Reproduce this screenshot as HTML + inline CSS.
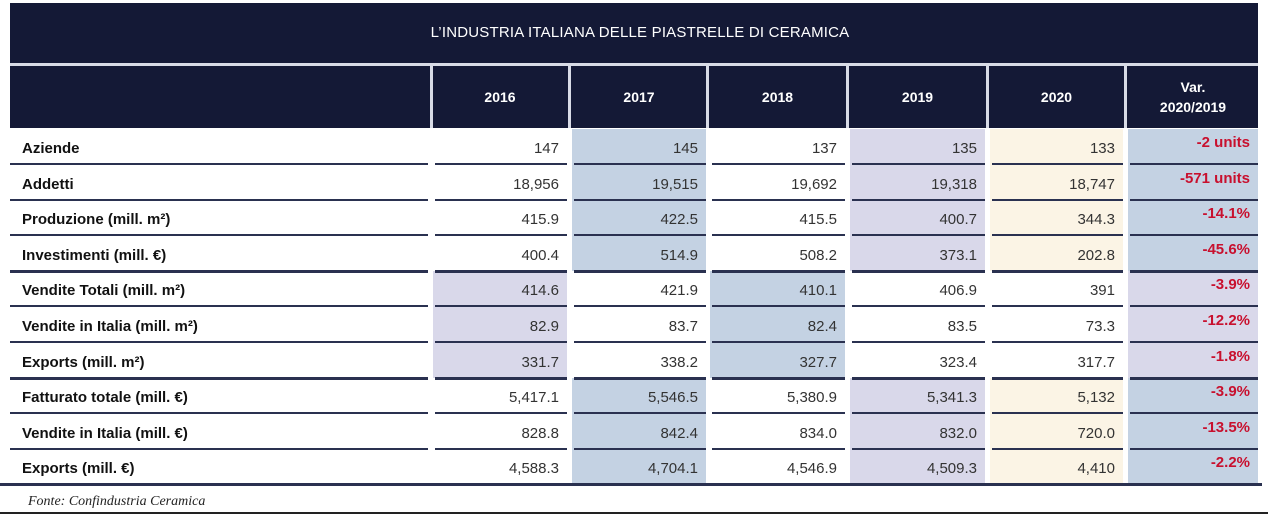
<!DOCTYPE html>
<html><head><style>
body{margin:0;width:1280px;height:525px;background:#fff;position:relative;overflow:hidden;font-family:"Liberation Sans",sans-serif}
.hd{position:absolute;left:10px;top:3px;width:1248px;height:125px;background:#141936}
.title{position:absolute;left:0;width:1280px;top:24px;text-align:center;color:#fff;font-size:15px;letter-spacing:0.2px}
.wl{position:absolute;left:10px;top:63px;width:1248px;height:3px;background:#d8dbe6}
.ch{position:absolute;top:66px;height:62px;color:#fff;font-weight:bold;font-size:14px;display:flex;align-items:center;justify-content:center;text-align:center;line-height:20px}
.vs{position:absolute;top:66px;height:62px;width:3px;background:#d8dbe6}
.c{position:absolute;height:36px;font-size:15px;color:#333;text-align:right;box-sizing:border-box;padding-right:8px;line-height:40px}
.l{position:absolute;left:22px;font-size:15px;font-weight:bold;color:#111;line-height:40px;height:34px}
.ln{position:absolute;height:2px;background:#2a3150;z-index:2}
.r{color:#c8102e;font-weight:bold;line-height:28px}
</style></head><body>
<div class="hd"></div>
<div class="title">L’INDUSTRIA ITALIANA DELLE PIASTRELLE DI CERAMICA</div>
<div class="wl"></div>
<div class="ch" style="left:433px;width:134px">2016</div>
<div class="ch" style="left:572px;width:134px">2017</div>
<div class="ch" style="left:710px;width:135px">2018</div>
<div class="ch" style="left:850px;width:135px">2019</div>
<div class="ch" style="left:990px;width:133px">2020</div>
<div class="ch" style="left:1128px;width:130px">Var.<br>2020/2019</div>
<div class="vs" style="left:430px"></div><div class="vs" style="left:568px"></div><div class="vs" style="left:706px"></div><div class="vs" style="left:846px"></div><div class="vs" style="left:986px"></div><div class="vs" style="left:1124px"></div>
<div id="t"></div>
<div style="position:absolute;left:28px;top:494px;font-family:'Liberation Serif',serif;font-style:italic;font-size:14px;color:#222">Fonte: Confindustria Ceramica</div>
<div style="position:absolute;left:0;top:512px;width:1268px;height:2px;background:#222"></div>
<script>
var rows=[["Aziende","147","145","137","135","133","-2 units"],["Addetti","18,956","19,515","19,692","19,318","18,747","-571 units"],["Produzione (mill. m²)","415.9","422.5","415.5","400.7","344.3","-14.1%"],["Investimenti (mill. €)","400.4","514.9","508.2","373.1","202.8","-45.6%"],["Vendite Totali (mill. m²)","414.6","421.9","410.1","406.9","391","-3.9%"],["Vendite in Italia (mill. m²)","82.9","83.7","82.4","83.5","73.3","-12.2%"],["Exports (mill. m²)","331.7","338.2","327.7","323.4","317.7","-1.8%"],["Fatturato totale (mill. €)","5,417.1","5,546.5","5,380.9","5,341.3","5,132","-3.9%"],["Vendite in Italia (mill. €)","828.8","842.4","834.0","832.0","720.0","-13.5%"],["Exports (mill. €)","4,588.3","4,704.1","4,546.9","4,509.3","4,410","-2.2%"]];
var B="#c4d2e3",L="#d9d8ea",C="#fbf4e5",W="#fff";
var A=[W,B,W,L,C,B],M=[L,W,B,W,W,L];
var xs=[433,572,710,850,990,1128],ws=[134,134,135,135,133,130];
var h="";
for(var i=0;i<10;i++){var y=Math.round(129+i*35.6);var col=(i>=4&&i<=6)?M:A;
h+='<div class="l" style="top:'+y+'px">'+rows[i][0]+'</div>';
for(var j=0;j<6;j++){h+='<div class="c'+(j==5?' r':'')+'" style="left:'+xs[j]+'px;width:'+ws[j]+'px;top:'+y+'px;background:'+col[j]+'">'+rows[i][j+1]+'</div>';}
var th=(i==3||i==6||i==9)?3:2;
if(i==9){h+='<div class="ln" style="left:0;width:1262px;top:'+(y+34)+'px;height:3px"></div>';}
else{h+='<div class="ln" style="left:10px;width:418px;top:'+(y+34)+'px;height:'+th+'px"></div>';
for(var j=0;j<6;j++){h+='<div class="ln" style="left:'+(xs[j]+2)+'px;width:'+(ws[j]-2)+'px;top:'+(y+34)+'px;height:'+th+'px"></div>';}}}
document.getElementById("t").innerHTML=h;
</script>
</body></html>
